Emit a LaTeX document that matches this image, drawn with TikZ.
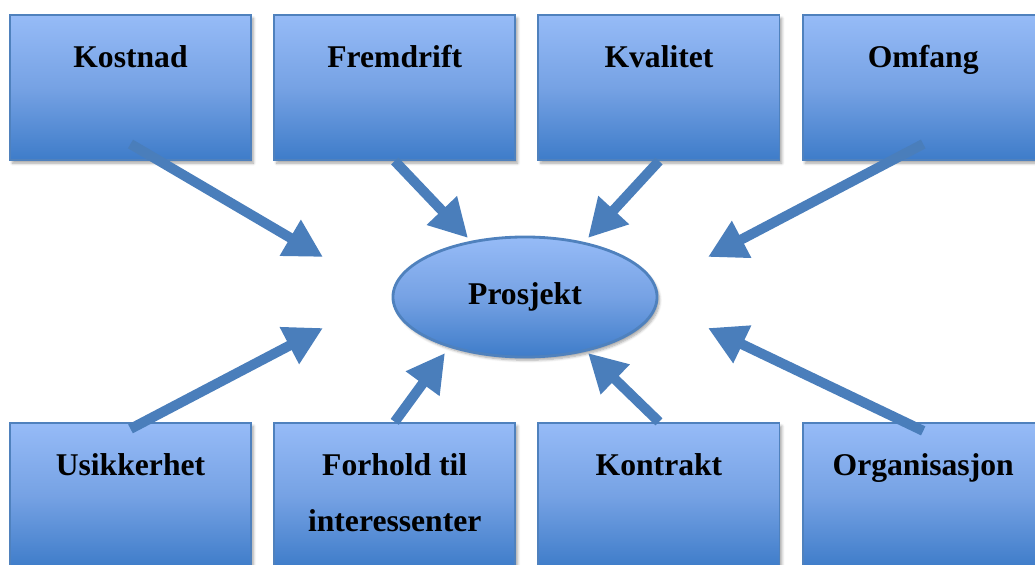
\documentclass[tikz,border=0pt]{standalone}
\usepackage{fontspec}
\setmainfont{Liberation Serif}
\usetikzlibrary{shapes,arrows.meta,positioning,shadows,shadows.blur}

\definecolor{boxtop}{RGB}{150,187,247}
\definecolor{boxmid}{RGB}{118,162,228}
\definecolor{boxbot}{RGB}{62,124,201}
\definecolor{boxline}{RGB}{79,129,189}
\definecolor{pilblue}{RGB}{74,126,187}

\begin{document}
\begin{tikzpicture}[x=0.025cm, y=-0.025cm, node distance=0.53cm,
    box/.style={rectangle, draw=boxline, line width=1.4pt, top color=boxtop, bottom color=boxbot, middle color=boxmid, minimum width=6.025cm, minimum height=3.625cm, inner sep=0pt, blur shadow={shadow xshift=0.06cm, shadow yshift=-0.08cm, shadow blur steps=6, shadow opacity=35}},
    boxtext/.style={anchor=north, yshift=-0.78cm, inner sep=0pt, align=center, font=\bfseries\fontsize{22.5}{40}\selectfont},
    midt/.style={ellipse, draw=boxline, line width=2pt, top color=boxtop, bottom color=boxbot, middle color=boxmid, minimum width=6.6cm, minimum height=3cm, inner sep=0pt, font=\bfseries\fontsize{22.5}{26}\selectfont, blur shadow={shadow xshift=0.06cm, shadow yshift=-0.08cm, shadow blur steps=6, shadow opacity=35}},
    pil/.style={line width=0.25cm, draw=pilblue, -{Triangle[length=0.95cm,width=0.98cm]}}]
    \useasboundingbox (0,0) rectangle (1035,565);
    \clip (0,0) rectangle (1035,565);

    % Top row
    \node[box, label={[boxtext]north:Kostnad}] (kost) at (130.5,87.5) {};
    \node[box, label={[boxtext]north:Fremdrift}, right=of kost] (frem) {};
    \node[box, label={[boxtext]north:Kvalitet}, right=of frem] (kval) {};
    \node[box, label={[boxtext]north:Omfang}, right=of kval] (omf) {};

    % Bottom row
    \node[box, label={[boxtext]north:Usikkerhet}, below=6.52cm of kost] (usik) {};
    \node[box, label={[boxtext]north:Forhold til\\interessenter}, right=of usik] (forh) {};
    \node[box, label={[boxtext]north:Kontrakt}, right=of forh] (kontr) {};
    \node[box, label={[boxtext]north:Organisasjon}, right=of kontr] (org) {};

    \node[midt] (P) at (525,297) {Prosjekt};

    % Arrow tips around the project
    \coordinate (tKost) at (323,257);
    \coordinate (tFrem) at (468,238);
    \coordinate (tKval) at (588,238);
    \coordinate (tOmf) at (708,257);
    \coordinate (tUsik) at (323,328);
    \coordinate (tForh) at (445,353);
    \coordinate (tKontr) at (588,353);
    \coordinate (tOrg) at (708,328);

    \draw[pil] ([yshift=0.425cm]kost.south) -- (tKost);
    \draw[pil] (frem.south) -- (tFrem);
    \draw[pil] (kval.south) -- (tKval);
    \draw[pil] ([yshift=0.425cm]omf.south) -- (tOmf);
    \draw[pil] ([yshift=-0.175cm]usik.north) -- (tUsik);
    \draw[pil] (forh.north) -- (tForh);
    \draw[pil] (kontr.north) -- (tKontr);
    \draw[pil] ([yshift=-0.225cm]org.north) -- (tOrg);
\end{tikzpicture}
\end{document}
